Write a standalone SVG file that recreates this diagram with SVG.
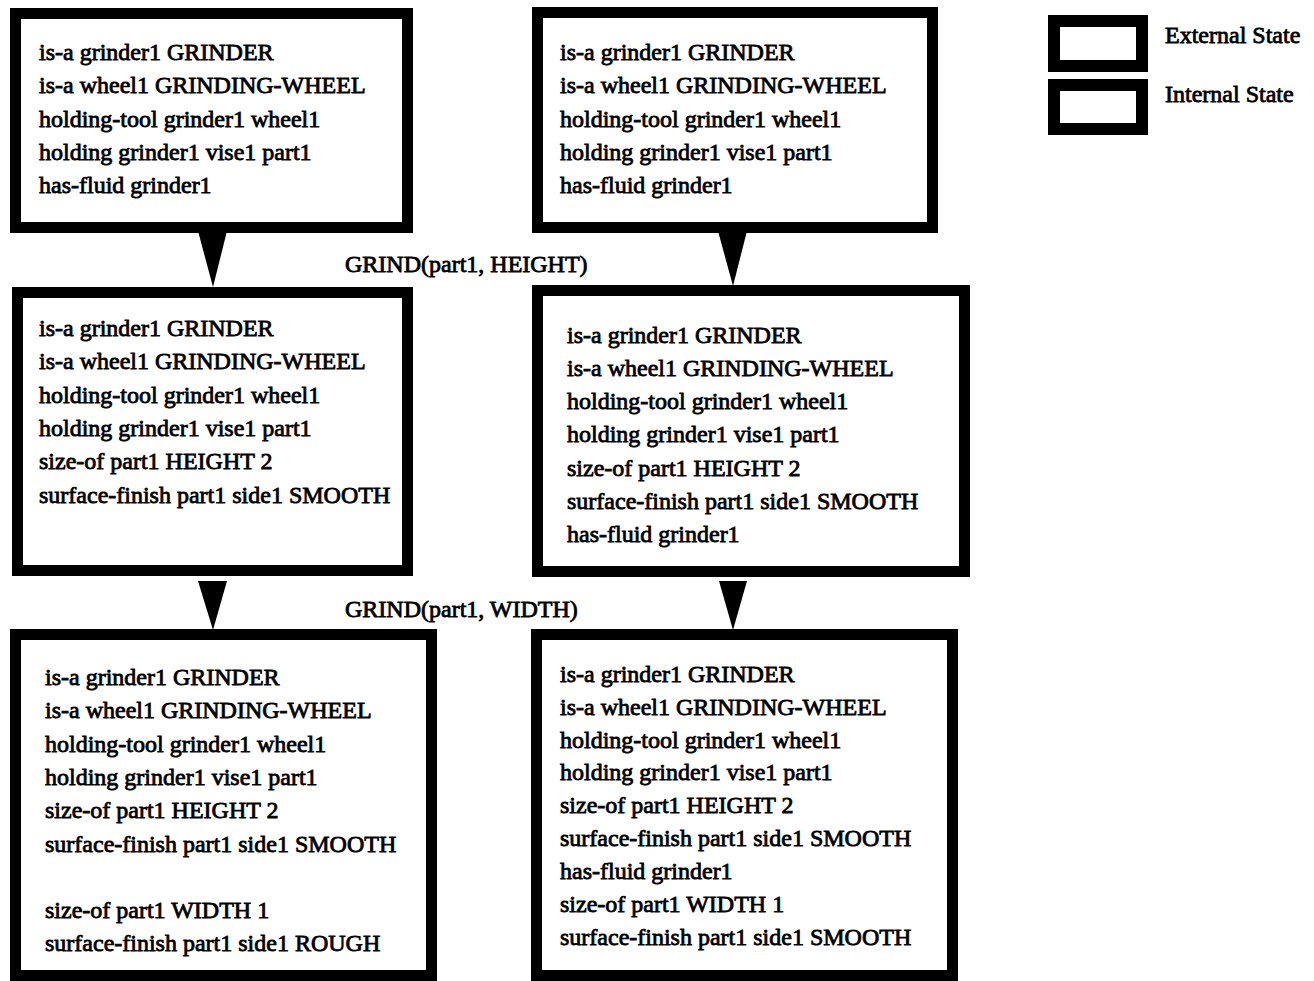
<svg xmlns="http://www.w3.org/2000/svg" width="1314" height="981" viewBox="0 0 1314 981">
<style>
.box{fill:#fff;stroke:#000;stroke-width:11}
.lg{fill:#fff;stroke:#000;stroke-width:12}
text{font-family:"Liberation Serif","Times New Roman",serif;font-size:24px;fill:#000;stroke:#000;stroke-width:0.8}
.arr{fill:#000;stroke:none}
</style>
<rect width="1314" height="981" fill="#fff"/>
<g id="connectors">
<polygon class="arr" points="198,231 227,231 213,287"/>
<polygon class="arr" points="718,231 747,231 733,286"/>
<polygon class="arr" points="198,581 227,581 213,630"/>
<polygon class="arr" points="719,581 747,581 733,630"/>
<text x="345" y="272">GRIND(part1, HEIGHT)</text>
<text x="345" y="617">GRIND(part1, WIDTH)</text>
</g>
<g id="state1">
<rect class="box" x="15.5" y="13.5" width="392" height="214"/>
<text x="39" y="60">is-a grinder1 GRINDER</text>
<text x="39" y="93.3">is-a wheel1 GRINDING-WHEEL</text>
<text x="39" y="126.7">holding-tool grinder1 wheel1</text>
<text x="39" y="160">holding grinder1 vise1 part1</text>
<text x="39" y="193.3">has-fluid grinder1</text>
</g>
<g id="state2">
<rect class="box" x="17.5" y="292.5" width="390" height="278"/>
<text x="39" y="336">is-a grinder1 GRINDER</text>
<text x="39" y="369.3">is-a wheel1 GRINDING-WHEEL</text>
<text x="39" y="402.6">holding-tool grinder1 wheel1</text>
<text x="39" y="435.9">holding grinder1 vise1 part1</text>
<text x="39" y="469.2">size-of part1 HEIGHT 2</text>
<text x="39" y="502.5">surface-finish part1 side1 SMOOTH</text>
</g>
<g id="state3">
<rect class="box" x="15.5" y="634.5" width="416" height="341"/>
<text x="45" y="685">is-a grinder1 GRINDER</text>
<text x="45" y="718.3">is-a wheel1 GRINDING-WHEEL</text>
<text x="45" y="751.6">holding-tool grinder1 wheel1</text>
<text x="45" y="784.9">holding grinder1 vise1 part1</text>
<text x="45" y="818.2">size-of part1 HEIGHT 2</text>
<text x="45" y="851.5">surface-finish part1 side1 SMOOTH</text>
<text x="45" y="918.1">size-of part1 WIDTH 1</text>
<text x="45" y="951.4">surface-finish part1 side1 ROUGH</text>
</g>
<g id="state4">
<rect class="box" x="537.5" y="12.5" width="395" height="215"/>
<text x="560" y="60">is-a grinder1 GRINDER</text>
<text x="560" y="93.3">is-a wheel1 GRINDING-WHEEL</text>
<text x="560" y="126.7">holding-tool grinder1 wheel1</text>
<text x="560" y="160">holding grinder1 vise1 part1</text>
<text x="560" y="193.3">has-fluid grinder1</text>
</g>
<g id="state5">
<rect class="box" x="537.5" y="290.5" width="427" height="281"/>
<text x="567" y="342.7">is-a grinder1 GRINDER</text>
<text x="567" y="375.9">is-a wheel1 GRINDING-WHEEL</text>
<text x="567" y="409.1">holding-tool grinder1 wheel1</text>
<text x="567" y="442.3">holding grinder1 vise1 part1</text>
<text x="567" y="475.5">size-of part1 HEIGHT 2</text>
<text x="567" y="508.7">surface-finish part1 side1 SMOOTH</text>
<text x="567" y="541.9">has-fluid grinder1</text>
</g>
<g id="state6">
<rect class="box" x="536.5" y="634.5" width="416" height="341"/>
<text x="560" y="681.7">is-a grinder1 GRINDER</text>
<text x="560" y="714.6">is-a wheel1 GRINDING-WHEEL</text>
<text x="560" y="747.5">holding-tool grinder1 wheel1</text>
<text x="560" y="780.4">holding grinder1 vise1 part1</text>
<text x="560" y="813.3">size-of part1 HEIGHT 2</text>
<text x="560" y="846.2">surface-finish part1 side1 SMOOTH</text>
<text x="560" y="879.1">has-fluid grinder1</text>
<text x="560" y="912">size-of part1 WIDTH 1</text>
<text x="560" y="944.9">surface-finish part1 side1 SMOOTH</text>
</g>
<g id="legend">
<rect class="lg" x="1054" y="21" width="88" height="45"/>
<text x="1165" y="43">External State</text>
<rect class="lg" x="1054" y="85" width="88" height="44"/>
<text x="1165" y="102">Internal State</text>
</g>
</svg>
